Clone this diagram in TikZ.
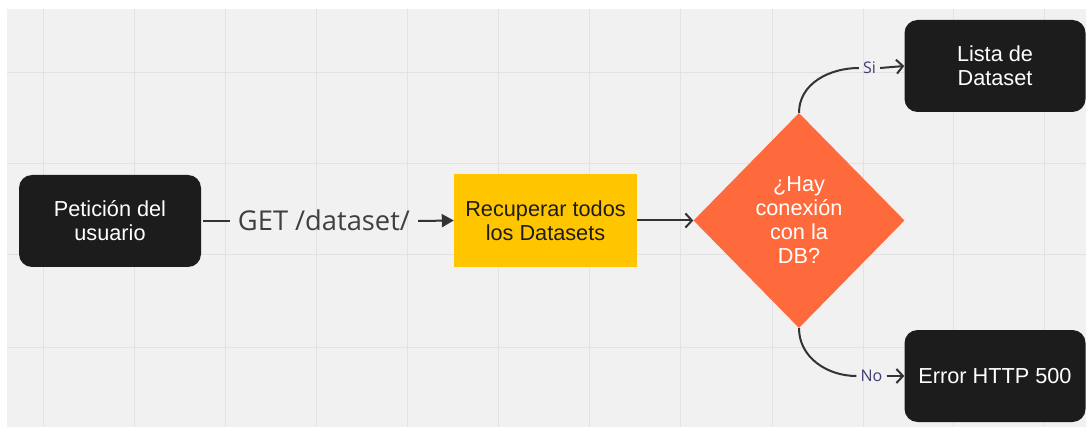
\documentclass[tikz,border=0pt]{standalone}
\usepackage{fontspec}
\setmainfont{Liberation Sans}
\newfontfamily\opensans{Open Sans}
\usetikzlibrary{shapes.geometric,arrows.meta}
\definecolor{bgc}{HTML}{F1F1F1}
\definecolor{gridc}{HTML}{E2E2E2}
\definecolor{boxk}{HTML}{1C1C1C}
\definecolor{yel}{HTML}{FFC600}
\definecolor{ora}{HTML}{FF6A3D}
\definecolor{linec}{HTML}{333333}
\definecolor{lblc}{HTML}{403D70}
\definecolor{getc}{HTML}{404040}
\tikzset{
  darkbox/.style={draw=none, fill=boxk, rounded corners=13pt, text=white, align=center,
    minimum width=182pt, minimum height=92pt, inner sep=0pt,
    font=\fontsize{21.7}{24}\selectfont},
  yelbox/.style={draw=none, fill=yel, text=boxk, align=center,
    minimum width=183pt, minimum height=93pt, inner sep=0pt,
    font=\fontsize{21.7}{24}\selectfont},
  decis/.style={diamond, draw=none, fill=ora, text=white, align=center,
    minimum width=211pt, minimum height=215pt, inner sep=0pt,
    font=\fontsize{21.7}{24}\selectfont},
  conn/.style={draw=linec, line width=2pt},
  barb/.style={conn, -{Straight Barb[length=6.5pt,width=14pt,line width=2pt]}},
  solidtip/.style={conn, -{Triangle[length=12pt,width=13pt]}},
  yn/.style={text=lblc, font=\opensans\fontsize{16}{16}\selectfont, inner xsep=4pt,
    inner ysep=0pt, text height=11.5pt, text depth=0pt},
}
\begin{document}
\begin{tikzpicture}[x=1pt,y=-1pt]
\useasboundingbox (0,0) rectangle (1086,427);
\fill[white] (0,0) rectangle (1086,427);
\fill[bgc] (7,9) rectangle (1086,427);
\foreach \gx in {43,134,225,316,407,498,589,680,772,863,953,1044}
  \draw[gridc, line width=1pt] (\gx,9) -- (\gx,427);
\foreach \gy in {73,164,255,347}
  \draw[gridc, line width=1pt] (7,\gy) -- (1086,\gy);

\node[darkbox] (pet) at (110,221) {Petición del\\usuario};
\node[yelbox] (rec) at (545.5,220.5) {Recuperar todos\\los Datasets};
\node[decis] (dec) at (799,220.5) {¿Hay\\conexión\\con la\\DB?};
\node[darkbox, minimum width=181pt] (lista) at (995,66) {Lista de\\Dataset};
\node[darkbox, minimum width=181pt] (err) at (995,376) {Error HTTP 500};

\node[text=getc, font=\opensans\fontsize{27.3}{27.3}\selectfont, inner xsep=8pt, inner ysep=0pt,
  text height=19pt, text depth=0pt] (get) at (324,221) {GET /dataset/};
\node[yn] (si) at (869.5,68) {Si};
\node[yn] (no) at (871.5,376) {No};

\draw[conn] ([xshift=2pt]pet.east) -- (get.west);
\draw[solidtip] (get.east) -- (rec.west);
\draw[barb] (rec.east) -- (dec.west);
\draw[conn] (dec.north) to[out=90,in=180] (si.west);
\draw[barb] (si.east) -- (lista.west);
\draw[conn] (dec.south) to[out=-90,in=180] (no.west);
\draw[barb] (no.east) -- (err.west);
\end{tikzpicture}
\end{document}
